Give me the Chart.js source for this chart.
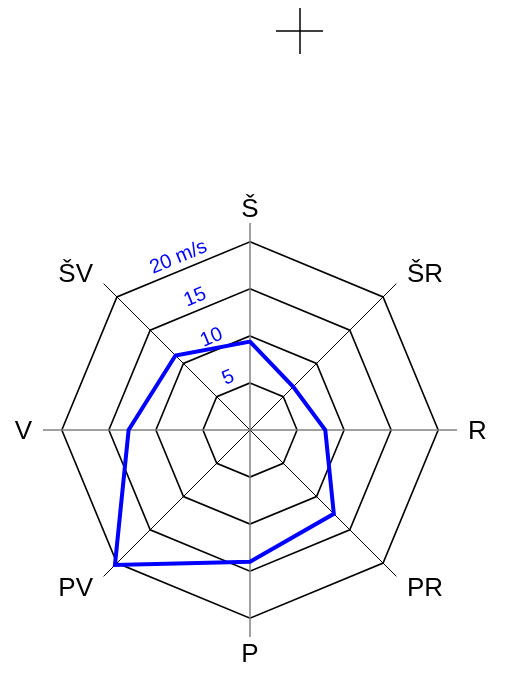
<!DOCTYPE html>
<html>
<head>
<meta charset="utf-8">
<script src="https://cdn.jsdelivr.net/npm/chart.js@4.4.0/dist/chart.umd.min.js"></script>
<style>
  html, body { margin: 0; padding: 0; background: #fff; }
  canvas { display: block; }
</style>
</head>
<body>
<canvas id="windChart" width="509" height="674"></canvas>
<script>
  // wind directions, clockwise from north
  const directions = ['Š', 'ŠR', 'R', 'PR', 'P', 'PV', 'V', 'ŠV'];
  // wind speed per direction (m/s)
  const speeds = [9.4, 6.5, 8.0, 12.6, 14.0, 20.3, 12.9, 11.2];
  // rings and their labels
  const ringValues = [5, 10, 15, 20];
  const ringLabels = ['5', '10', '15', '20 m/s'];
  const scaleMax = 22;

  const labelFont = '"Liberation Sans", Arial, sans-serif';

  // direction names + rotated ring labels, placed through the radial scale
  const windLabels = {
    id: 'windLabels',
    afterDraw(chart) {
      const scale = chart.scales.r;
      const ctx = chart.ctx;
      ctx.save();

      const size = 26;
      const cap = size * 0.72;
      ctx.font = size + 'px ' + labelFont;
      ctx.fillStyle = '#000';
      ctx.textBaseline = 'alphabetic';
      directions.forEach((name, i) => {
        const diagonal = i % 2 === 1;
        const sideways = i === 2 || i === 6;
        const p = scale.getPointPosition(i, diagonal ? 222 : (sideways ? 218 : 213));
        const dx = p.x - scale.xCenter;
        const dy = p.y - scale.yCenter;
        ctx.textAlign = Math.abs(dx) < 1 ? 'center' : (dx > 0 ? 'left' : 'right');
        let y = p.y;
        if (diagonal || Math.abs(dy) < 1) y += cap / 2;
        else if (dy > 0) y += cap;
        ctx.fillText(name, p.x, y);
      });

      ctx.fillStyle = '#0000ff';
      ctx.font = '20px ' + labelFont;
      ctx.textAlign = 'center';
      ctx.textBaseline = 'middle';
      const step = 2 * Math.PI / directions.length;
      const ang = -Math.PI / 2 - step / 2;
      ringValues.forEach((v, k) => {
        const d = scale.getDistanceFromCenterForValue(v) * Math.cos(step / 2) + 13;
        ctx.save();
        ctx.translate(scale.xCenter + Math.cos(ang) * d, scale.yCenter + Math.sin(ang) * d);
        ctx.rotate(ang + Math.PI / 2);
        ctx.fillText(ringLabels[k], 0, 0);
        ctx.restore();
      });

      // small cross marker at the top
      ctx.strokeStyle = '#000';
      ctx.lineWidth = 1.5;
      ctx.beginPath();
      ctx.moveTo(276, 31); ctx.lineTo(323, 31);
      ctx.moveTo(300, 8); ctx.lineTo(300, 54);
      ctx.stroke();

      ctx.restore();
    }
  };

  new Chart(document.getElementById('windChart'), {
    type: 'radar',
    data: {
      labels: directions,
      datasets: [{
        data: speeds,
        borderColor: '#0000ff',
        borderWidth: 4,
        borderJoinStyle: 'miter',
        fill: false,
        pointRadius: 0,
        tension: 0
      }]
    },
    options: {
      responsive: false,
      animation: false,
      layout: { padding: { left: 43, right: 52, top: 223, bottom: 37 } },
      plugins: {
        legend: { display: false },
        tooltip: { enabled: false }
      },
      scales: {
        r: {
          min: 0,
          max: scaleMax,
          ticks: { display: false, stepSize: 5 },
          pointLabels: { display: false },
          grid: {
            color: c => (c.tick && c.tick.value % 5 === 0) ? '#000' : 'rgba(0,0,0,0)',
            lineWidth: 1.6
          },
          angleLines: {
            color: c => c.index % 2 === 0 ? '#808080' : '#000',
            lineWidth: c => c.index % 2 === 0 ? 1.5 : 1
          }
        }
      }
    },
    plugins: [windLabels]
  });
</script>
</body>
</html>
